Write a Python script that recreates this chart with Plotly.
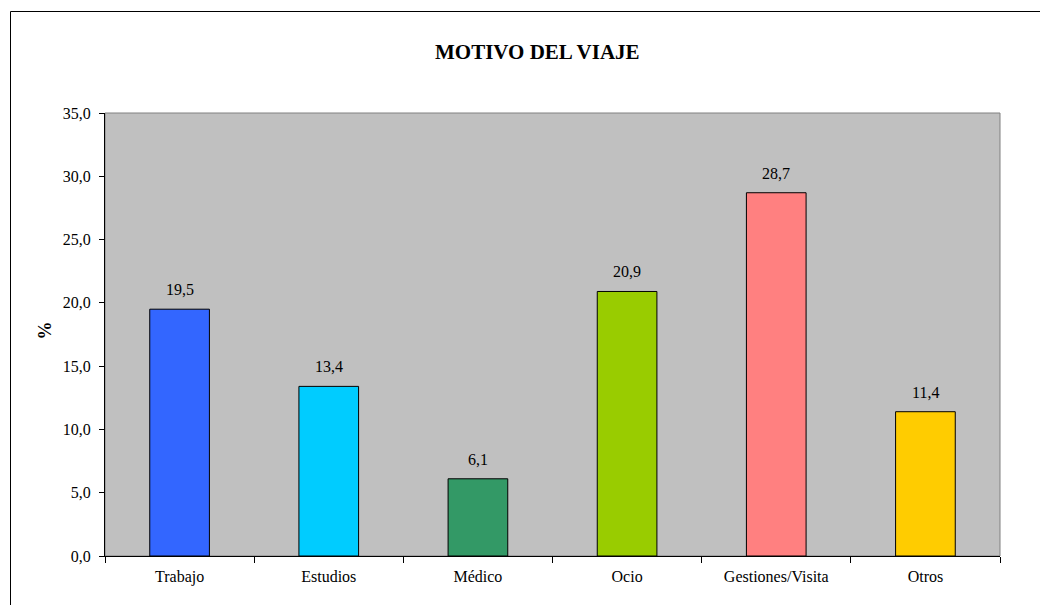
import plotly.graph_objects as go

categories = ["Trabajo", "Estudios", "Médico", "Ocio", "Gestiones/Visita", "Otros"]
values = [19.5, 13.4, 6.1, 20.9, 28.7, 11.4]
colors = ["#3366FF", "#00CCFF", "#339966", "#99CC00", "#FF8080", "#FFCC00"]
y_ticks = [0, 5, 10, 15, 20, 25, 30, 35]

# page offset of the plotly div (body margin)
OFF = 8
W, H = 1048, 605
L, R, T, B = 105 - OFF, 1000 - OFF, 113 - OFF, 556 - OFF

def px_x(px):
    return (px - OFF - L) / (R - L)

def px_y(py):
    return (B - (py - OFF)) / (B - T)

font = "Liberation Serif, Times New Roman, serif"

fig = go.Figure(go.Bar(
    x=categories, y=values,
    marker=dict(color=colors, line=dict(color="black", width=1)),
))

for c, v in zip(categories, values):
    fig.add_annotation(x=c, y=v, text=f"{v:.1f}".replace(".", ","), showarrow=False,
                       yanchor="bottom", yshift=9,
                       font=dict(family=font, size=16, color="black"))

fig.update_layout(
    width=W, height=H,
    margin=dict(l=L, r=W - R, t=T, b=H - B),
    paper_bgcolor="white", plot_bgcolor="#C0C0C0",
    separators=",.",
    bargap=0.6,
    showlegend=False,
    font=dict(family=font, size=16, color="black"),
    xaxis=dict(type="category", tickson="boundaries", ticks="outside", ticklen=6,
               tickcolor="black", showline=True, linecolor="black", linewidth=1,
               showgrid=False, ticklabelstandoff=6, tickfont=dict(family=font, size=16)),
    yaxis=dict(range=[0, 35], tickvals=y_ticks, tickformat=".1f", ticks="outside",
               ticklen=5, tickcolor="black", showline=True, linecolor="black",
               linewidth=1, showgrid=False, zeroline=False, ticklabelstandoff=5,
               tickfont=dict(family=font, size=16)),
    shapes=[
        dict(type="rect", xref="paper", yref="paper", x0=0, x1=1, y0=0, y1=1,
             line=dict(color="#808080", width=1), layer="below"),
        dict(type="rect", xref="paper", yref="paper",
             x0=px_x(10.5), x1=px_x(1070), y0=px_y(11.5), y1=px_y(640),
             line=dict(color="black", width=1)),
    ],
)
fig.add_annotation(text="<b>MOTIVO DEL VIAJE</b>", xref="paper", yref="paper",
                   x=px_x(537), y=px_y(52), showarrow=False,
                   xanchor="center", yanchor="middle",
                   font=dict(family=font, size=21, color="black"))
fig.add_annotation(text="<b>%</b>", xref="paper", yref="paper",
                   x=px_x(44.5), y=px_y(331), showarrow=False, textangle=-90,
                   xanchor="center", yanchor="middle",
                   font=dict(family=font, size=18, color="black"))

fig.write_html("out.html")
